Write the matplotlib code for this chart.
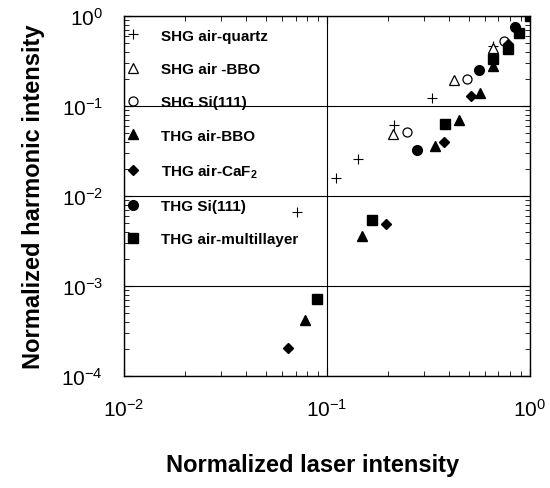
import matplotlib
matplotlib.use("Agg")
matplotlib.rcParams["font.family"] = "sans-serif"
matplotlib.rcParams["font.sans-serif"] = ["Liberation Sans", "Arial", "DejaVu Sans"]
matplotlib.rcParams["mathtext.fontset"] = "custom"
matplotlib.rcParams["mathtext.rm"] = "Liberation Sans"
matplotlib.rcParams["mathtext.bf"] = "Liberation Sans:bold"
import matplotlib.pyplot as plt
from matplotlib.ticker import LogLocator

# values (laser intensity, harmonic intensity), normalized
shg_quartz_x = [0.071, 0.111, 0.142, 0.214, 0.329, 0.657]
shg_quartz_y = [0.0066, 0.0158, 0.026, 0.062, 0.123, 0.46]
shg_bbo_x = [0.211, 0.423, 0.657]
shg_bbo_y = [0.049, 0.194, 0.44]
shg_si_x = [0.248, 0.49, 0.744]
shg_si_y = [0.051, 0.20, 0.53]
thg_bbo_x = [0.078, 0.149, 0.34, 0.447, 0.568, 0.66, 0.88]
thg_bbo_y = [4.2e-4, 0.0036, 0.036, 0.070, 0.139, 0.28, 0.66]
thg_caf2_x = [0.064, 0.195, 0.377, 0.512, 0.78]
thg_caf2_y = [2.05e-4, 0.0049, 0.040, 0.129, 0.49]
thg_si_x = [0.277, 0.56, 0.843]
thg_si_y = [0.0325, 0.25, 0.755]
thg_ml_x = [0.0894, 0.167, 0.381, 0.66, 0.78, 0.88, 1.0]
thg_ml_y = [7.2e-4, 0.0054, 0.063, 0.33, 0.43, 0.65, 1.0]

fig = plt.figure(figsize=(5.5, 4.89), dpi=100)
ax = fig.add_axes([0.2255, 0.229, 0.738, 0.736])

ax.plot(shg_quartz_x, shg_quartz_y, "+", color="k", ms=7, mew=0.8, label="SHG air-quartz")
ax.plot(shg_bbo_x, shg_bbo_y, "^", mfc="white", mec="k", ms=6.5, mew=0.9, label="SHG air -BBO")
ax.plot(shg_si_x, shg_si_y, "o", mfc="white", mec="k", ms=6.5, mew=0.9, label="SHG Si(111)")
ax.plot(thg_bbo_x, thg_bbo_y, "^", color="k", ms=7, label="THG air-BBO")
ax.plot(thg_caf2_x, thg_caf2_y, "D", color="k", ms=5, label=r"THG air-CaF$_\mathbf{2}$")
ax.plot(thg_si_x, thg_si_y, "o", color="k", ms=7, label="THG Si(111)")
ax.plot(thg_ml_x, thg_ml_y, "s", color="k", ms=6.5, label="THG air-multillayer")

ax.set_xscale("log")
ax.set_yscale("log")
ax.set_xlim(0.01, 1.0)
ax.set_ylim(1e-4, 1.0)
ax.xaxis.set_major_locator(LogLocator(base=10, numticks=10))
ax.yaxis.set_major_locator(LogLocator(base=10, numticks=10))
ax.grid(True, which="major", color="k", lw=0.8)

ax.tick_params(which="both", direction="in", top=True, right=True, color="k")
ax.tick_params(which="major", length=6, width=0.8, labelsize=15, pad=16)
ax.tick_params(which="minor", length=3.5, width=0.6)
ax.tick_params(axis="y", which="major", pad=15)
for s in ax.spines.values():
    s.set_linewidth(1.0)

ax.set_xlabel("Normalized laser intensity", fontsize=17, fontweight="bold", labelpad=24)
ax.xaxis.label.set_x(0.464)
ax.set_ylabel("Normalized harmonic intensity", fontsize=17, fontweight="bold", labelpad=12)

leg = ax.legend(loc="upper left", frameon=False, prop={"size": 11, "weight": "bold"},
                labelspacing=1.27, handletextpad=1.3, handlelength=1.0,
                borderaxespad=0.0, borderpad=0.3, bbox_to_anchor=(-0.008, 0.978))

fig.savefig("out.png", dpi=100, facecolor="white")
